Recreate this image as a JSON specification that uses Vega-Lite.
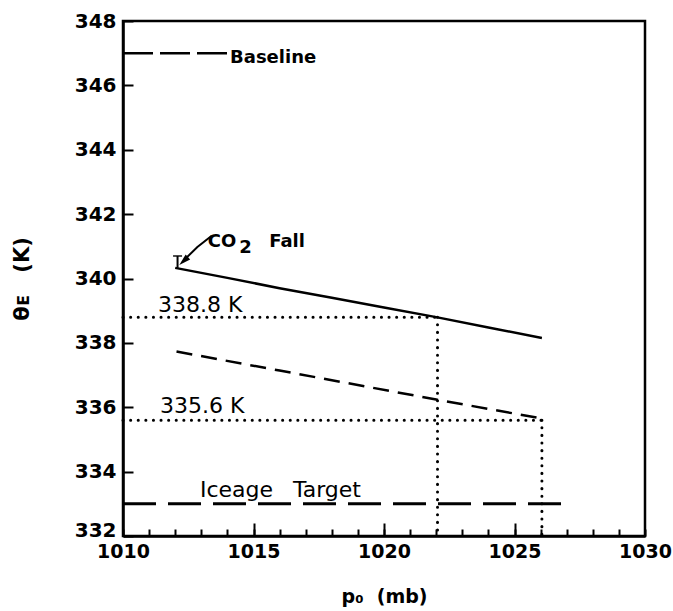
{
  "$schema": "https://vega.github.io/schema/vega-lite/v6.json",
  "width": 522,
  "height": 515,
  "autosize": "none",
  "padding": {"left": 123, "top": 21, "right": 28, "bottom": 75},
  "config": {
    "view": {"stroke": "black", "strokeWidth": 2.5},
    "font": "DejaVu Sans",
    "axis": {
      "grid": false,
      "labelFlush": false,
      "labelOverlap": false,
      "domainColor": "black",
      "domainWidth": 2.5,
      "tickColor": "black",
      "tickWidth": 2,
      "labelColor": "black",
      "labelFont": "DejaVu Sans",
      "labelFontWeight": "bold",
      "labelFontSize": 19,
      "titleColor": "black",
      "titleFont": "DejaVu Sans",
      "titleFontWeight": "bold",
      "titleFontSize": 19
    }
  },
  "datasets": {
    "solid": [
      {"p": 1012.0, "t": 340.33},
      {"p": 1014.0, "t": 340.02},
      {"p": 1016.0, "t": 339.7},
      {"p": 1018.0, "t": 339.4},
      {"p": 1020.0, "t": 339.1},
      {"p": 1022.0, "t": 338.8},
      {"p": 1024.0, "t": 338.48},
      {"p": 1026.05, "t": 338.15}
    ],
    "dashed": [
      {"p": 1012.05, "t": 337.73},
      {"p": 1016.0, "t": 337.14},
      {"p": 1022.0, "t": 336.24},
      {"p": 1026.05, "t": 335.65}
    ],
    "dotted": [
      {"seg": "h1", "i": 0, "p": 1010.0, "t": 338.8},
      {"seg": "h1", "i": 1, "p": 1022.05, "t": 338.8},
      {"seg": "v1", "i": 0, "p": 1022.05, "t": 338.8},
      {"seg": "v1", "i": 1, "p": 1022.05, "t": 332.0},
      {"seg": "h2", "i": 0, "p": 1010.0, "t": 335.6},
      {"seg": "h2", "i": 1, "p": 1026.05, "t": 335.6},
      {"seg": "v2", "i": 0, "p": 1026.05, "t": 335.6},
      {"seg": "v2", "i": 1, "p": 1026.05, "t": 332.0}
    ],
    "baseline": [{"p1": 1010.0, "p2": 1014.0, "t": 347.0}],
    "iceage": [{"p1": 1010.0, "p2": 1026.8, "t": 333.0}],
    "boldText": [
      {"label": "Baseline", "p": 1014.1, "t": 346.68},
      {"label": "CO", "p": 1013.25, "t": 340.98},
      {"label": "2", "p": 1014.45, "t": 340.79},
      {"label": "Fall", "p": 1015.6, "t": 340.98}
    ],
    "plainText": [
      {"label": "338.8 K", "p": 1011.34, "t": 338.96},
      {"label": "335.6 K", "p": 1011.42, "t": 335.82},
      {"label": "Iceage", "p": 1012.95, "t": 333.22},
      {"label": "Target", "p": 1016.51, "t": 333.22}
    ],
    "ibar": [{"p": 1012.09, "t1": 340.33, "t2": 340.7}],
    "arrow": [
      {"i": 0, "p": 1013.4, "t": 341.33},
      {"i": 1, "p": 1012.85, "t": 340.98},
      {"i": 2, "p": 1012.4, "t": 340.62}
    ],
    "arrowHead": [{"p": 1012.33, "t": 340.55}]
  },
  "resolve": {"axis": {"x": "independent"}},
  "layer": [
    {
      "data": {"name": "solid"},
      "mark": {"type": "line", "color": "black", "strokeWidth": 2.5},
      "encoding": {
        "x": {
          "field": "p", "type": "quantitative",
          "scale": {"domain": [1010, 1030], "nice": false, "zero": false},
          "axis": {
            "orient": "bottom",
            "title": "p₀\u00a0\u00a0(mb)",
            "values": [1010,1011,1012,1013,1014,1015,1016,1017,1018,1019,1020,1021,1022,1023,1024,1025,1026,1027,1028,1029,1030],
            "format": "d",
            "labelExpr": "datum.value % 5 == 0 ? datum.label : ''",
            "tickSize": -7,
            "labelPadding": 13,
            "titlePadding": 26
          }
        },
        "y": {
          "field": "t", "type": "quantitative",
          "scale": {"domain": [332, 348], "nice": false, "zero": false},
          "axis": {
            "title": "θᴇ\u00a0\u00a0\u00a0(K)",
            "values": [332,333,334,335,336,337,338,339,340,341,342,343,344,345,346,347,348],
            "format": "d",
            "labelExpr": "datum.value % 2 == 0 ? datum.label : ''",
            "labelBaseline": {"condition": {"test": "datum.value == 332", "value": "alphabetic"}, "value": "middle"},
            "labelFontSize": 20,
            "tickSize": -10,
            "labelPadding": 17,
            "titleFontSize": 21,
            "titlePadding": 42
          }
        }
      }
    },
    {
      "data": {"name": "dashed"},
      "mark": {"type": "line", "color": "black", "strokeWidth": 2.5, "strokeDash": [16, 9]},
      "encoding": {
        "x": {
          "field": "p", "type": "quantitative",
          "axis": {
            "orient": "bottom",
            "title": null,
            "values": [1015, 1020, 1025],
            "labels": false,
            "domain": false,
            "tickSize": -13
          }
        },
        "y": {"field": "t", "type": "quantitative"}
      }
    },
    {
      "data": {"name": "dotted"},
      "mark": {"type": "line", "color": "black", "strokeWidth": 3, "strokeDash": [0.1, 7.5], "strokeCap": "round"},
      "encoding": {
        "x": {"field": "p", "type": "quantitative", "axis": null},
        "y": {"field": "t", "type": "quantitative"},
        "detail": {"field": "seg"},
        "order": {"field": "i"}
      }
    },
    {
      "data": {"name": "baseline"},
      "mark": {"type": "rule", "color": "black", "strokeWidth": 2.5, "strokeDash": [30, 7]},
      "encoding": {
        "x": {"field": "p1", "type": "quantitative", "axis": null},
        "x2": {"field": "p2"},
        "y": {"field": "t", "type": "quantitative"}
      }
    },
    {
      "data": {"name": "iceage"},
      "mark": {"type": "rule", "color": "black", "strokeWidth": 3, "strokeDash": [33, 12]},
      "encoding": {
        "x": {"field": "p1", "type": "quantitative", "axis": null},
        "x2": {"field": "p2"},
        "y": {"field": "t", "type": "quantitative"}
      }
    },
    {
      "data": {"name": "boldText"},
      "mark": {"type": "text", "align": "left", "baseline": "alphabetic", "font": "DejaVu Sans", "fontWeight": "bold", "fontSize": 18, "color": "black"},
      "encoding": {
        "x": {"field": "p", "type": "quantitative", "axis": null},
        "y": {"field": "t", "type": "quantitative"},
        "text": {"field": "label"}
      }
    },
    {
      "data": {"name": "plainText"},
      "mark": {"type": "text", "align": "left", "baseline": "alphabetic", "font": "DejaVu Sans", "fontSize": 22, "color": "black"},
      "encoding": {
        "x": {"field": "p", "type": "quantitative", "axis": null},
        "y": {"field": "t", "type": "quantitative"},
        "text": {"field": "label"}
      }
    },
    {
      "data": {"name": "ibar"},
      "mark": {"type": "rule", "color": "black", "strokeWidth": 2},
      "encoding": {
        "x": {"field": "p", "type": "quantitative", "axis": null},
        "y": {"field": "t1", "type": "quantitative"},
        "y2": {"field": "t2"}
      }
    },
    {
      "data": {"name": "ibar"},
      "mark": {"type": "tick", "color": "black", "orient": "horizontal", "size": 9, "thickness": 2},
      "encoding": {
        "x": {"field": "p", "type": "quantitative", "axis": null},
        "y": {"field": "t2", "type": "quantitative"}
      }
    },
    {
      "data": {"name": "arrow"},
      "mark": {"type": "line", "color": "black", "strokeWidth": 2},
      "encoding": {
        "x": {"field": "p", "type": "quantitative", "axis": null},
        "y": {"field": "t", "type": "quantitative"},
        "order": {"field": "i"}
      }
    },
    {
      "data": {"name": "arrowHead"},
      "mark": {"type": "point", "filled": true, "color": "black", "opacity": 1, "shape": "M0,-1L0.55,0.9L-0.55,0.9Z", "size": 150, "angle": 228},
      "encoding": {
        "x": {"field": "p", "type": "quantitative", "axis": null},
        "y": {"field": "t", "type": "quantitative"}
      }
    }
  ]
}
